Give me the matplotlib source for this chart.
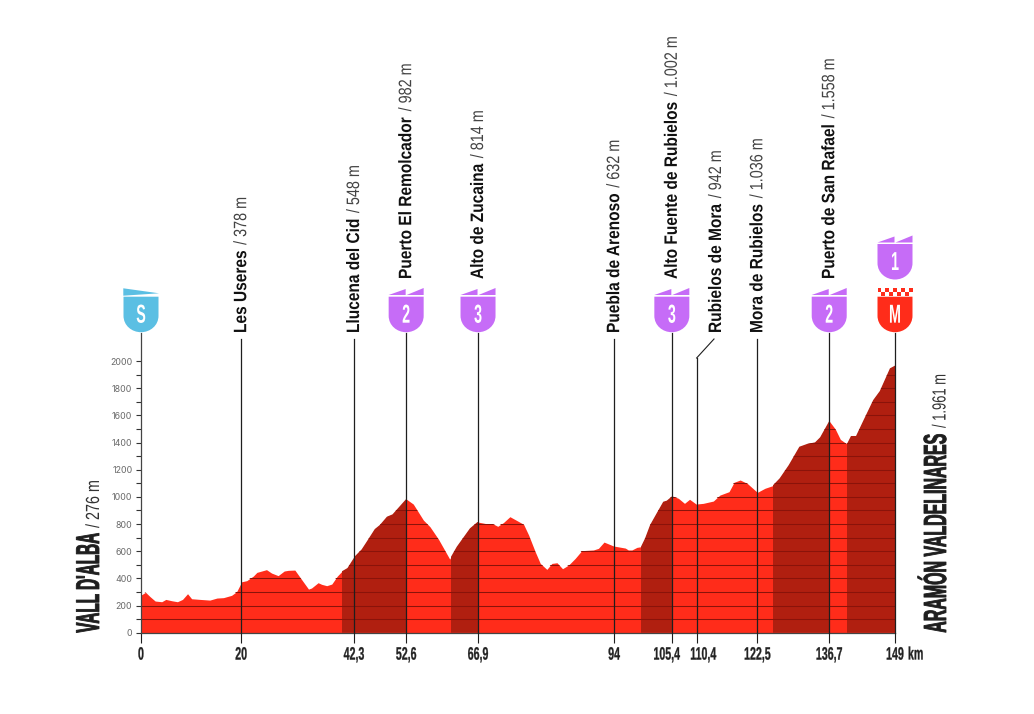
import matplotlib
matplotlib.use("Agg")
import matplotlib.pyplot as plt
from matplotlib.path import Path
from matplotlib.patches import PathPatch, Polygon, Rectangle
from matplotlib.patheffects import AbstractPathEffect
from matplotlib.transforms import Affine2D, blended_transform_factory

# ---------- data ----------
profile_km = [0, .9, 1.8, 2.8, 4.1, 4.9, 6.1, 7.2, 8.2, 9.2, 10.0, 11.7, 13.6, 15.0, 16.3, 17.9, 18.9, 19.9,
              20.9, 22.2, 22.9, 24.8, 25.8, 27.1, 28.3, 29.1, 30.4, 31.8, 33.1, 33.7, 35.0, 35.7, 36.7, 37.7,
              38.8, 39.7, 40.8, 42.3, 43.6, 44.6, 46.2, 47.2, 48.6, 49.7, 52.4, 53.8, 55.8, 57.1, 58.8, 61.0,
              62.4, 65.0, 66.5, 68.3, 69.6, 70.5, 71.6, 72.9, 74.3, 75.6, 76.6, 77.9, 78.9, 80.2, 81.2, 82.2,
              83.3, 84.5, 85.8, 87.1, 89.4, 90.4, 91.5, 93.4, 95.7, 96.3, 97.0, 98.0, 98.8, 99.6, 100.6, 101.9,
              103.2, 103.9, 105.0, 106.2, 107.4, 108.4, 109.7, 111.1, 113.1, 114.4, 116.2, 117.2, 118.4, 119.8,
              121.8, 123.3, 124.8, 126.2, 128.0, 130.1, 131.6, 133.2, 134.2, 136.0, 137.2, 138.2, 139.5, 140.3,
              141.3, 142.8, 144.7, 146.0, 148.0, 149.0]
profile_m = [277, 297, 265, 233, 228, 245, 235, 228, 245, 287, 250, 245, 240, 255, 258, 275, 302, 375,
             383, 417, 444, 464, 439, 420, 454, 459, 461, 388, 321, 329, 368, 356, 346, 358,
             417, 452, 476, 564, 613, 670, 763, 793, 854, 871, 984, 947, 829, 780, 687, 542,
             633, 768, 815, 802, 800, 783, 810, 854, 825, 798, 719, 596, 510, 466, 510, 515,
             471, 498, 547, 604, 609, 621, 667, 638, 623, 609, 609, 628, 633, 694, 793, 879,
             964, 972, 1006, 989, 952, 982, 947, 952, 969, 1013, 1038, 1107, 1124, 1099,
             1033, 1063, 1082, 1136, 1234, 1369, 1389, 1401, 1438, 1558, 1499, 1423, 1389, 1448,
             1448, 1566, 1713, 1779, 1946, 1966]
climb_start = [39.7, 61.2, 98.8, 124.8, 139.5]
climb_end = [52.4, 66.5, 105.0, 136.0, 149.0]

tick_pos = [0, 19.8, 42.1, 52.4, 66.6, 93.5, 104.9, 109.8, 121.8, 136.0, 149.0]
tick_labels = ["0", "20", "42,3", "52,6", "66,9", "94", "105,4", "110,4", "122,5", "136,7", "149"]

point_km = [19.8, 42.1, 52.4, 66.6, 93.5, 104.9, 109.8, 121.8, 136.0]
point_names = ["Les Useres", "Llucena del Cid", "Puerto El Remolcador", "Alto de Zucaina", "Puebla de Arenoso",
               "Alto Fuente de Rubielos", "Rubielos de Mora", "Mora de Rubielos", "Puerto de San Rafael"]
point_alts = ["/ 378 m", "/ 548 m", "/ 982 m", "/ 814 m", "/ 632 m", "/ 1.002 m", "/ 942 m", "/ 1.036 m", "/ 1.558 m"]
point_cat = ["", "", "2", "3", "", "3", "", "", "2"]

y_major = [0, 200, 400, 600, 800, 1000, 1200, 1400, 1600, 1800, 2000]
y_minor = [100, 300, 500, 700, 900, 1100, 1300, 1500, 1700, 1900]
start_name, start_alt = "VALL D'ALBA", "/ 276 m"
finish_name, finish_alt = "ARAMÓN VALDELINARES", "/ 1.961 m"

# ---------- style ----------
RED, DARK, LINE = "#FF2C1A", "#B01F10", "#8A130A"
PURPLE, BLUE, INK = "#C66CF7", "#5BBFE3", "#1E1E1E"
W, H = 1034, 714
plt.rcParams["font.family"] = ["Liberation Sans"]
fig = plt.figure(figsize=(W / 100, H / 100), dpi=100, facecolor="white")
ax = fig.add_axes([141 / W, (H - 632.7) / H, 754 / W, 271.7 / H])
ax.set_xlim(0, 149)
ax.set_ylim(0, 2000)
ax.patch.set_alpha(0)
page = Affine2D().scale(1 / W, -1 / H).translate(0, 1) + fig.transFigure
xpage = blended_transform_factory(ax.transData, page)
renderer = fig.canvas.get_renderer()


class Tall(AbstractPathEffect):
    """Stretches glyphs away from the baseline: a small font this way looks condensed."""
    def __init__(self, sy, stroke=0):
        super().__init__()
        self.sy, self.stroke = sy, stroke

    def draw_path(self, rnd, gc, tpath, affine, rgbFace=None):
        g = rnd.new_gc()
        g.copy_properties(gc)
        if self.stroke:
            g.set_linewidth(self.stroke)
            g.set_foreground(rgbFace)
        rnd.draw_path(g, tpath, Affine2D().scale(1, self.sy) + affine, rgbFace)
        g.restore()


def condense(t, px, sx, stroke=0):
    t.set_fontsize(px * sx * .72)
    t.set_path_effects([Tall(1 / sx, stroke)])


def run(x, y, s, px, weight="bold", color=INK, length=None, sx=1.0, stroke=0):
    """Rotated text on a baseline at pixel x, starting at pixel height y and running upward; returns its end."""
    t = fig.text(x, y, s, fontsize=px * .72, fontweight=weight, color=color, rotation=90, rotation_mode="anchor",
                 ha="left", va="baseline", transform=page)
    raw = t.get_window_extent(renderer).height
    if length:
        sx = length / raw
    condense(t, px, sx, stroke)
    return y - raw * sx


def shield(cx, top, face):
    v = [(-17.5, 0), (17.5, 0), (17.5, 19), (17.5, 29), (9, 35.5), (0, 35.5), (-9, 35.5), (-17.5, 29), (-17.5, 19),
         (-17.5, 0)]
    c = [Path.MOVETO, Path.LINETO, Path.LINETO, Path.CURVE4, Path.CURVE4, Path.CURVE4, Path.CURVE4, Path.CURVE4,
         Path.CURVE4, Path.CLOSEPOLY]
    fig.add_artist(PathPatch(Path(v, c), fc=face, ec="none", transform=Affine2D().translate(cx, top) + page))


def badge_flags(cx, top):
    for a, b, rise in [(-17.5, -0.5, 6.5), (0.5, 17.5, 7.5)]:
        fig.add_artist(Polygon([(cx + a, top - 1.5), (cx + b, top - 1 - rise), (cx + b, top - 1.5)], fc=PURPLE,
                               ec="none", transform=page))


def badge_letter(cx, top, s):
    t = fig.text(cx, top + 26, s, color="white", fontweight="bold", ha="center", va="baseline", transform=page)
    condense(t, 26, .55)


# ---------- profile ----------
fill = ax.fill_between(profile_km, profile_m, 0, color=RED, lw=0, zorder=1)
clip = fill.get_paths()[0]
for a, b in zip(climb_start, climb_end):
    ax.axvspan(a, b, color=DARK, lw=0, zorder=2).set_clip_path(clip, ax.transData)
for lvl in y_major[1:-1] + y_minor:
    ax.axhline(lvl, color=LINE, lw=.75, zorder=3).set_clip_path(clip, ax.transData)

# ---------- axes ----------
for name in ["top", "right", "left"]:
    ax.spines[name].set_visible(False)
ax.spines["bottom"].set_color("#444444")
ax.spines["bottom"].set_linewidth(.9)
ax.spines["bottom"].set_zorder(4)
ax.set_yticks(y_major)
ax.set_yticks(y_minor, minor=True)
ax.set_yticklabels([str(v) for v in y_major], fontsize=6.4, color="#6A6A6A", family="Inter")
ax.tick_params(axis="y", which="both", length=3.6, width=.8, color="#333333", pad=2.6)
ax.set_xticks(tick_pos, tick_labels)
ax.tick_params(axis="x", length=7.2, width=.8, color=INK, pad=12.2)
label_shift = {"105,4": -5, "110,4": 6.7}
for lab in ax.get_xticklabels():
    lab.set_fontweight("bold")
    lab.set_color("#222222")
    lab.set_va("baseline")
    condense(lab, 18, .59, stroke=.2)
    dx = label_shift.get(lab.get_text(), 0)
    if dx:
        lab.set_transform(lab.get_transform() + Affine2D().translate(dx, 0))
km = fig.text(908, 659.5, "km", fontweight="bold", color="#222222", va="baseline", transform=page)
condense(km, 18, .59, stroke=.2)

# ---------- stems, labels ----------
ax.plot([0, 0], [333, 632.7], color="#444444", lw=.9, transform=xpage, clip_on=False, zorder=5)
ax.plot([149, 149], [333, 632.7], color=INK, lw=.9, transform=xpage, clip_on=False, zorder=5)
for k, name, alt, cat in zip(point_km, point_names, point_alts, point_cat):
    bent = name == "Rubielos de Mora"
    top = 358 if bent else (333 if cat else 339)
    ax.plot([k, k], [top, 632.7], color=INK, lw=.9, transform=xpage, clip_on=False, zorder=5)
    cx = xpage.transform((k, 0))[0]
    tx = 721 if bent else cx + 5
    if bent:
        fig.add_artist(plt.Line2D([cx, 714], [358, 339], color=INK, lw=.8, transform=page))
    base = 279 if cat else 333
    end = run(tx, base, name, 18, color="#111111", sx=.86)
    run(tx, end - 5.5, alt, 18, weight="normal", color="#444444", sx=.8)
    if cat:
        badge_flags(cx, 296.5)
        shield(cx, 296.7, PURPLE)
        badge_letter(cx, 296.7, cat)

# start badge
x0 = xpage.transform((0, 0))[0]
fig.add_artist(Polygon([(123.3, 288.3), (159, 293.3), (123.3, 295.7)], fc=BLUE, ec="none", transform=page))
shield(x0, 296.7, BLUE)
badge_letter(x0, 296.7, "S")

# finish badges
x1 = xpage.transform((149, 0))[0]
badge_flags(x1, 244)
shield(x1, 244, PURPLE)
badge_letter(x1, 244, "1")
shield(x1, 296.7, RED)
badge_letter(x1, 296.7, "M")
for col in range(9):
    for row in range(2):
        if (col + row) % 2 == 0:
            fig.add_artist(Rectangle((877.5 + col * 3.95, 287.8 + row * 4), 3.95, 4, fc=RED, ec="none", transform=page))

# start / finish names
run(99, 632.7, start_name, 33, length=100, stroke=.6)
run(99, 528, start_alt, 19, weight="normal", color="#333333", length=48)
run(946, 632.7, finish_name, 32, length=199, stroke=.6)
run(945.5, 428, finish_alt, 19, weight="normal", color="#333333", length=54)

fig.savefig("out.png", dpi=100)
